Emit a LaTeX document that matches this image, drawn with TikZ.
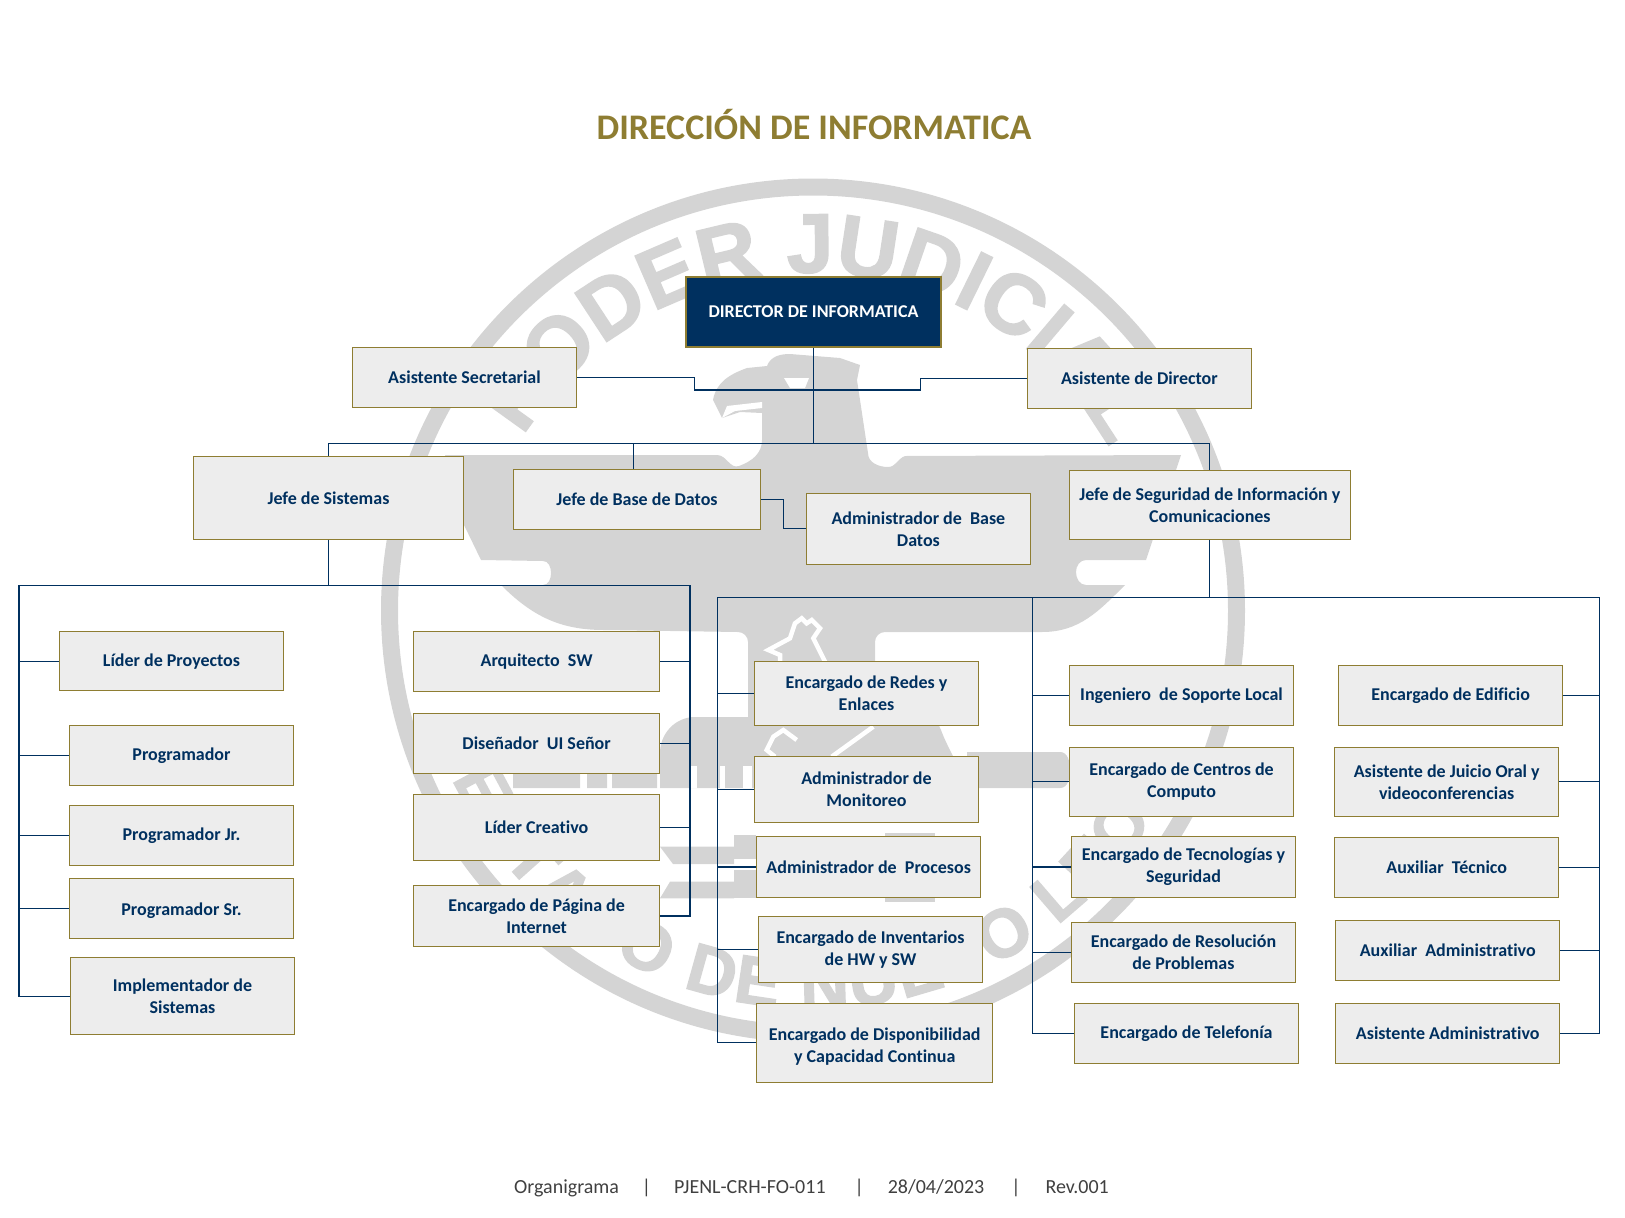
\documentclass[tikz,border=0pt]{standalone}
\usepackage{fontspec}
\setmainfont{Carlito}[Ligatures=NoCommon]
\newfontfamily\wmfont{Liberation Sans}[FakeBold=2]
\usetikzlibrary{decorations.text}
\definecolor{navy}{HTML}{00305F}
\definecolor{olive}{HTML}{8E7D32}
\definecolor{boxgray}{HTML}{EDEDED}
\definecolor{wmgray}{HTML}{D4D4D4}
\definecolor{footgray}{HTML}{404040}
\tikzset{
	jobbox/.style 2 args={draw=olive, line width=1.2pt, fill=boxgray, text=navy, inner sep=0pt,
		minimum width=#1pt, minimum height=#2pt, align=center,
		font=\fontsize{18}{22}\selectfont\bfseries},
	link/.style={draw=navy, line width=1.1pt},
	wmark/.style={fill=wmgray, draw=none},
	wmhole/.style={fill=white, draw=none},
	wmline/.style={draw=white, line width=4.5pt}
}

\begin{document}
\begin{tikzpicture}[x=1pt,y=-1pt]
	\useasboundingbox (0,0) rectangle (1625,1218);

	% watermark
	\begin{scope}[shift={(813,610.5)},x=1pt,y=1pt]
		\fill [wmark, even odd rule] (0,0) circle [radius=432pt] (0,0) circle [radius=415pt];
		\path [decorate, decoration={text along path, text align=fit to path,
			text={|\fontsize{84}{84}\wmfont\bfseries\color{wmgray}|PODER JUDICIAL}}]
			(149:338pt) arc [start angle=149, end angle=31, radius=338pt];
		\path [decorate, decoration={text along path, text align=fit to path,
			text={|\fontsize{68}{68}\wmfont\bfseries\color{wmgray}|ESTADO DE NUEVO LEON}}]
			(205:398pt) arc [start angle=205, end angle=336, radius=398pt];
	\end{scope}
	\fill [wmark] (445,455) -- (717,455) to [out=0, in=200] (739,466) to [out=20, in=270] (762,440)
		-- (762,413) -- (740,412) -- (722,418) -- (713,400) to [out=80, in=200] (747,368)
		-- (767,366) to [out=70, in=180] (790,354) -- (840,358) -- (860,365) -- (857,380) -- (868,453)
		to [out=270, in=180] (888,467) to [out=0, in=200] (905,456) -- (1181,455) -- (1146,560)
		-- (1086,560) to [out=180, in=90] (1076,572) to [out=270, in=180] (1086,585) -- (1125,585)
		to [out=225, in=0] (1042,632) -- (885,632) to [out=180, in=90] (875,642) -- (875,717)
		to [out=0, in=110] (941,730) to [out=290, in=90] (961,788) -- (660,788) -- (660,753)
		to [out=90, in=180] (695,717) -- (748,717) -- (748,642) to [out=90, in=0] (738,632)
		-- (604,630) to [out=180, in=-45] (501,585) -- (543,585)
		to [out=0, in=270] (551,573) to [out=90, in=0] (543,561) -- (481,560) -- (464,525)
		-- (430,525) -- (430,503) -- (464,503) -- cycle;
	\fill [wmhole] (784,378) -- (809,378) -- (805,388) -- (790,388) -- cycle;
	\fill [wmhole] (722,418) -- (727,406) -- (762,402) -- (762,408) -- (735,411) -- cycle;
	\draw [wmline] (780,661) -- (780,655) -- (768.3,650) -- (790,638.3) -- (795,623.3) -- (801.7,618.3)
		-- (806.7,623.3) -- (811.7,620) -- (820,628.3) -- (813.3,638.3) -- (825,661.7);
	\draw [wmline] (775,756.7) -- (766.7,750) -- (773.3,736.7) -- (783.3,730) -- (796.7,740);
	\draw [wmline] (873.3,726.7) -- (831.7,756.7);
	\fill [wmhole] (690,788) -- (690,766) -- (697,766) -- (697,788) -- cycle;
	\fill [wmhole] (720,788) -- (720,766) -- (725,766) -- (725,788) -- cycle;
	\fill [wmhole] (743,788) -- (743,766) -- (752,766) -- (752,788) -- cycle;
	\fill [wmark] (513,773) rectangle (580,788) (587,773) rectangle (607,788) (612,763) rectangle (657,788);
	\fill [wmark] (967,752) -- (1060,752) to [out=0, in=90] (1070,770) to [out=270, in=0] (1060,788) -- (967,788) -- cycle;
	\fill [wmark] (660,846.7) -- (734,846.7) -- (734,864) -- (673,864) -- cycle;
	\fill [wmark] (734,835) rectangle (756,859);
	\fill [wmark] (670,881.7) -- (734,881.7) -- (734,898.3) -- (660,898.3) -- cycle;
	\fill [wmark] (734,870) rectangle (756,898.3);
	\fill [wmark] (885,833) rectangle (935,902);

	% title and footer
	\node [text=olive, font=\fontsize{36}{40}\selectfont\bfseries] (title) at (814,124.5) {DIRECCIÓN DE INFORMATICA};
	\node [text=footgray, font=\fontsize{20}{22}\selectfont] (foot) at (811.5,1188)
		{Organigrama\hspace{23pt}|\hspace{23pt}PJENL-CRH-FO-011\hspace{29pt}|\hspace{24pt}28/04/2023\hspace{27pt}|\hspace{25pt}Rev.001};

	% top rows
	\node [jobbox={255}{70}, fill=navy, text=white] (dir) at (813.5,312) {DIRECTOR DE INFORMATICA};
	\node [jobbox={224}{60}] (sec) at (464.5,377.3) {Asistente Secretarial};
	\node [jobbox={224}{60}] (asd) at (1139.4,378.3) {Asistente de Director};
	\node [jobbox={270}{83}] (sis) at (328.5,497.8) {Jefe de Sistemas};
	\node [jobbox={247}{60}] (bas) at (637,499.3) {Jefe de Base de Datos};
	\node [jobbox={224}{71}] (adb) at (918.4,528.8) {Administrador de\ \ Base\\Datos};
	\node [jobbox={281}{69}] (seg) at (1209.9,504.8) {Jefe de Seguridad de Información y\\Comunicaciones};

	% sistemas
	\node [jobbox={224}{59}] (lid) at (171.5,661.1) {Líder de Proyectos};
	\node [jobbox={224}{60}] (pro) at (181.5,755.3) {Programador};
	\node [jobbox={224}{60}] (prj) at (181.5,835.3) {Programador Jr.};
	\node [jobbox={224}{60}] (prs) at (181.5,908.3) {\rule{0pt}{17pt}Programador Sr.};
	\node [jobbox={224}{77}] (imp) at (182.5,996.2) {Implementador de\\Sistemas};
	\node [jobbox={246}{60}] (arq) at (536.6,661.5) {Arquitecto\ \ SW};
	\node [jobbox={246}{60}] (dis) at (536.6,743.5) {Diseñador\ \ UI Señor};
	\node [jobbox={246}{66}] (cre) at (536.6,827.4) {Líder Creativo};
	\node [jobbox={246}{61}] (pag) at (536.6,916) {Encargado de Página de\\Internet};

	% seguridad
	\node [jobbox={224}{64}] (red) at (866.5,693.2) {Encargado de Redes y\\Enlaces};
	\node [jobbox={224}{66}] (mon) at (866.5,789.4) {Administrador de\\Monitoreo};
	\node [jobbox={224}{61}] (prc) at (868.7,867) {Administrador de\ \ Procesos};
	\node [jobbox={224}{66}] (inv) at (870.5,949.4) {Encargado de Inventarios\\de HW y SW};
	\node [jobbox={236}{79}] (dsp) at (874.7,1042.9) {\rule{0pt}{20pt}Encargado de Disponibilidad\\y Capacidad Continua};
	\node [jobbox={224}{60}] (ing) at (1181.5,695.4) {Ingeniero\ \ de Soporte Local};
	\node [jobbox={224}{69}] (cen) at (1181.5,781.9) {Encargado de Centros de\\Computo};
	\node [jobbox={224}{61}] (tec) at (1183.5,867) {Encargado de Tecnologías y\\Seguridad};
	\node [jobbox={224}{60}] (rsl) at (1183.5,952.4) {Encargado de Resolución\\de Problemas};
	\node [jobbox={224}{60}] (tel) at (1186.5,1033.4) {Encargado de Telefonía};
	\node [jobbox={224}{60}] (edi) at (1450.6,695.4) {Encargado de Edificio};
	\node [jobbox={224}{69}] (jui) at (1446.7,781.9) {Asistente de Juicio Oral y\\videoconferencias};
	\node [jobbox={224}{60}] (tcn) at (1446.7,867.5) {Auxiliar\ \ Técnico};
	\node [jobbox={224}{60}] (aad) at (1447.7,950.4) {Auxiliar\ \ Administrativo};
	\node [jobbox={224}{60}] (asa) at (1447.7,1033.4) {Asistente Administrativo};

	% bus points
	\coordinate (topbus) at (813.5,443.3);
	\coordinate (bastap) at (633.4,443.3);
	\coordinate (basmid) at (783.5,514);
	\coordinate (lowl) at (694.6,390);
	\coordinate (lowr) at (920.5,390);
	\coordinate (busa) at (19,585.3);
	\coordinate (busb) at (690,585.3);
	\coordinate (busc) at (717.6,597.3);
	\coordinate (busd) at (1032.6,597.3);
	\coordinate (buse) at (1599.5,597.3);

	% connectors
	\draw [link] (dir.south) -- (topbus);
	\draw [link] (sec.east) -| (lowl) -- (lowr) |- (asd.west);
	\draw [link] (sis.north) |- (topbus) -| (seg.north);
	\draw [link] (bastap) -- (bastap |- bas.north);
	\draw [link] (bas.east) -| (basmid) |- (adb.west);
	\draw [link] (sis.south) -- (sis.south |- busa);
	\draw [link] (imp.west) -| (busa) -- (busb) |- (pag.east);
	\foreach \n in {lid,pro,prj,prs}
		\draw [link] (busa |- \n.west) -- (\n.west);
	\foreach \n in {arq,dis,cre}
		\draw [link] (busb |- \n.east) -- (\n.east);
	\draw [link] (seg.south) -- (seg.south |- busc);
	\draw [link] (dsp.west) -| (busc) -- (buse) |- (asa.east);
	\draw [link] (busd) |- (tel.west);
	\foreach \n in {red,mon,prc,inv}
		\draw [link] (busc |- \n.west) -- (\n.west);
	\foreach \n in {ing,cen,tec,rsl}
		\draw [link] (busd |- \n.west) -- (\n.west);
	\foreach \n in {edi,jui,tcn,aad}
		\draw [link] (buse |- \n.east) -- (\n.east);
\end{tikzpicture}
\end{document}
